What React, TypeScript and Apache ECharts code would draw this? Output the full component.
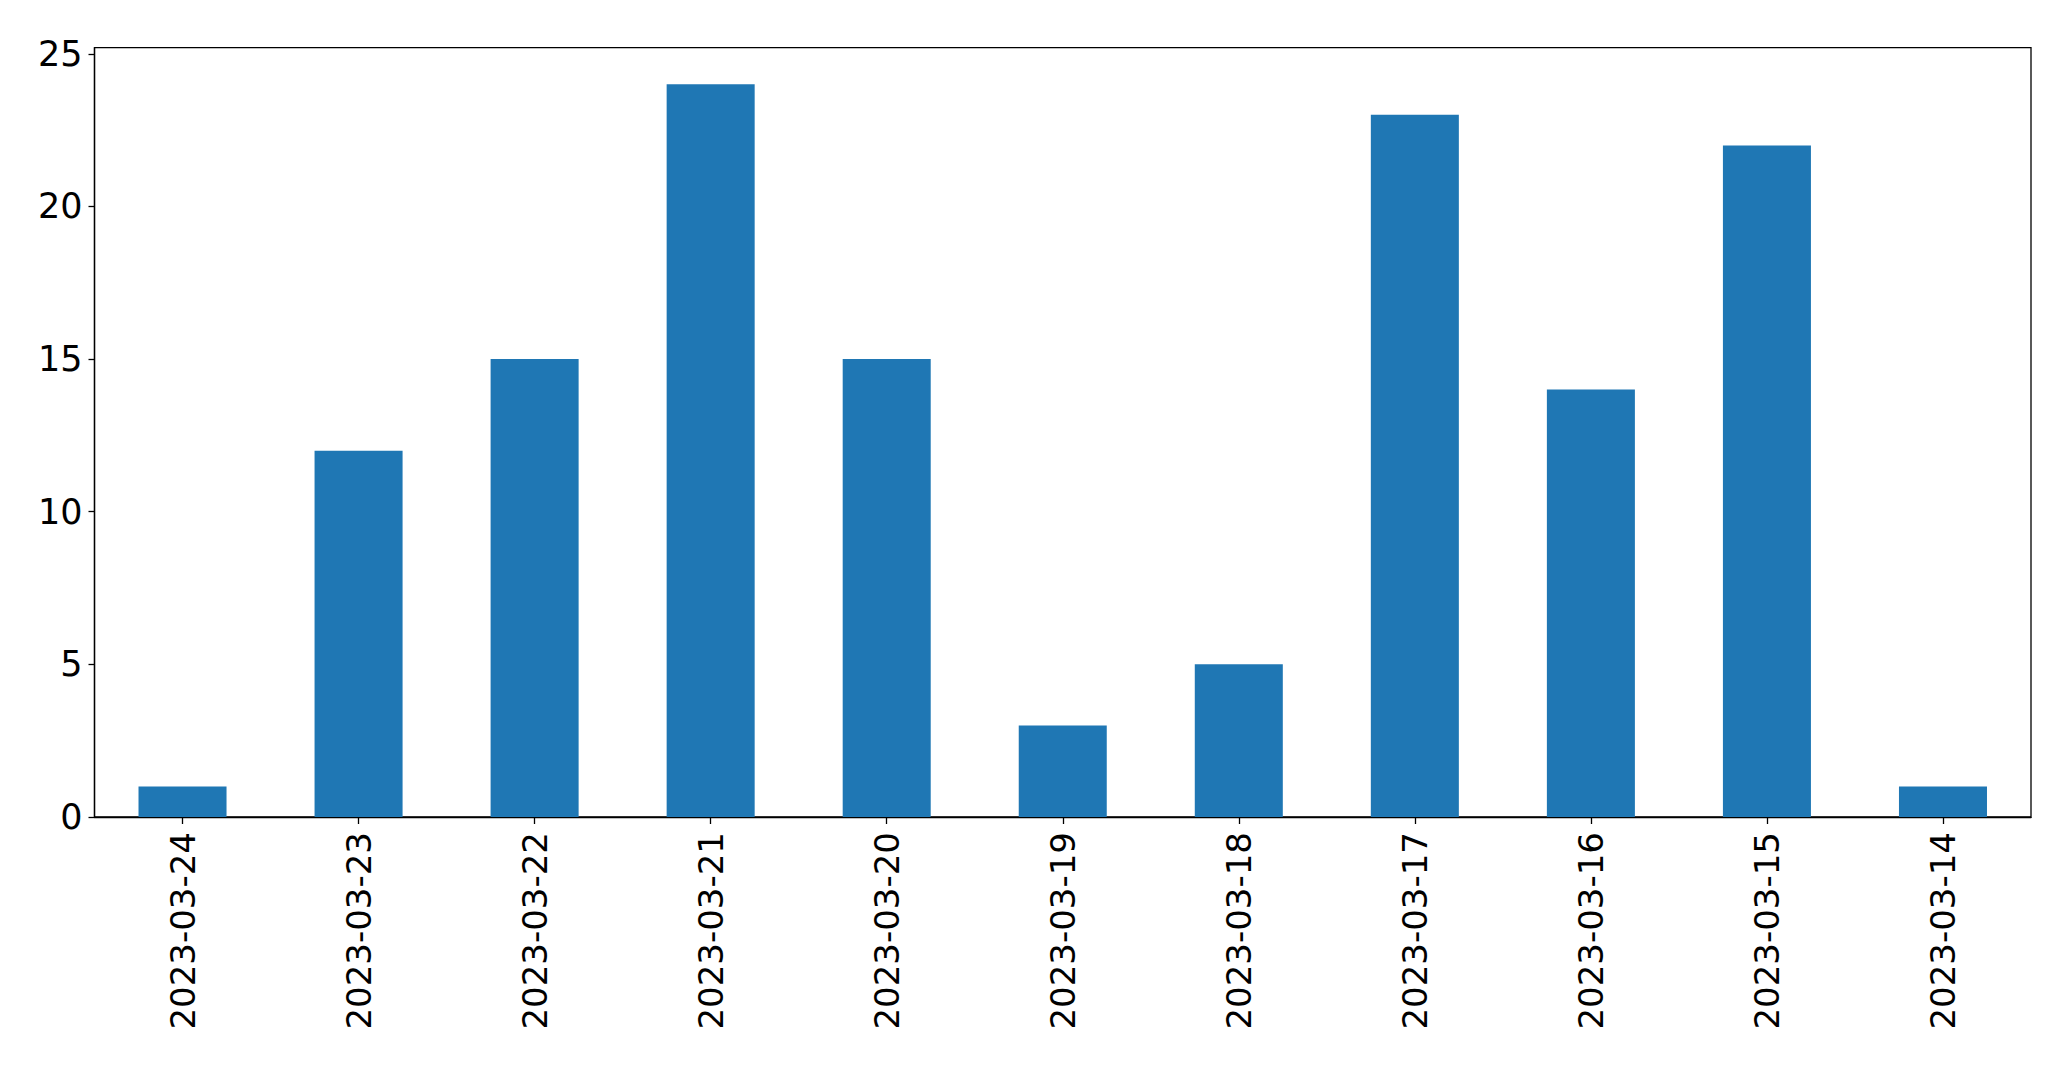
import React, { useEffect, useRef } from "react";
import * as echarts from "echarts";

const categories = [
  "2023-03-24", "2023-03-23", "2023-03-22", "2023-03-21", "2023-03-20", "2023-03-19",
  "2023-03-18", "2023-03-17", "2023-03-16", "2023-03-15", "2023-03-14",
];
const values = [1, 12, 15, 24, 15, 3, 5, 23, 14, 22, 1];
const yTicks = [0, 5, 10, 15, 20, 25];

export default function App() {
  const ref = useRef<HTMLDivElement>(null);
  useEffect(() => {
    if (!ref.current) return;
    const chart = echarts.init(ref.current, null, { renderer: "svg" });
    const font = "DejaVu Sans";
    chart.setOption({
      animation: false,
      backgroundColor: "#ffffff",
      grid: {
        left: 94.5,
        top: 47.7,
        right: 40,
        bottom: 252,
        show: true,
        borderColor: "#000000",
        borderWidth: 1.3,
        backgroundColor: "transparent",
      },
      xAxis: {
        type: "category",
        data: categories,
        boundaryGap: true,
        axisLine: { show: true, lineStyle: { color: "#000000", width: 1.3 } },
        axisTick: { show: true, alignWithLabel: true, length: 7, lineStyle: { color: "#000000", width: 1.3 } },
        axisLabel: { rotate: 90, margin: 15, fontSize: 34, color: "#000000", fontFamily: font, interval: 0 },
        splitLine: { show: false },
      },
      yAxis: {
        type: "value",
        min: 0,
        max: 25.2,
        interval: 5,
        axisLine: { show: true, lineStyle: { color: "#000000", width: 1.3 } },
        axisTick: { show: true, length: 6, lineStyle: { color: "#000000", width: 1.3 }, customValues: yTicks },
        axisLabel: { margin: 12, fontSize: 35, color: "#000000", fontFamily: font, customValues: yTicks },
        splitLine: { show: false },
      },
      series: [
        {
          type: "bar",
          data: values,
          barWidth: "50%",
          itemStyle: { color: "#1f77b4" },
        },
      ],
    });
    return () => chart.dispose();
  }, []);
  return (
    <div
      ref={ref}
      style={{ position: "absolute", left: 0, top: 0, width: 2071, height: 1069 }}
    />
  );
}
